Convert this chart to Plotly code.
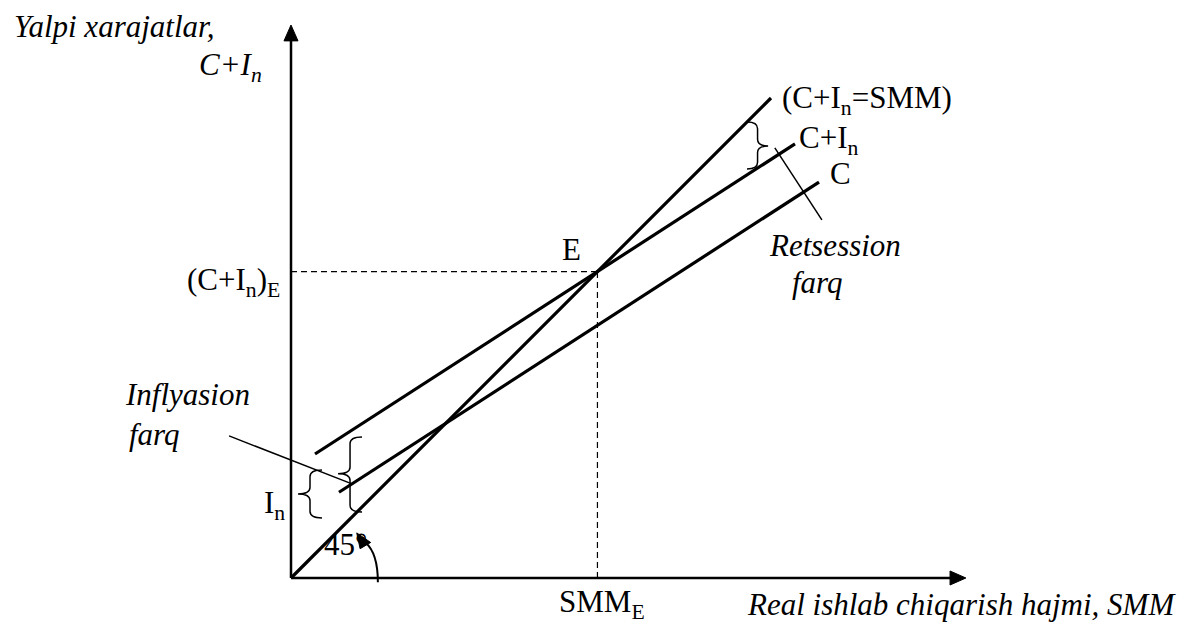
import plotly.graph_objects as go

# Keynesian cross: aggregate expenditure vs real output
mpc = 0.646            # slope of the consumption function
c_autonomous = 1.14    # autonomous consumption (C intercept)
invest = 1.12          # investment I_n
line45_x = [0.0, 10.0]
ae_x = [0.5, 10.5]      # C + I_n line span
cons_x = [1.0, 11.0]    # C line span

x_axis_end = 14.06
y_axis_end = 11.52

eq_x = (c_autonomous + invest) / (1 - mpc)
eq_y = eq_x

# plot scaling: 1 unit = 48 px, origin at (291, 578) in a 1190x632 canvas
W, H = 1190, 632
UNIT = 48.0
OX, OY = 291, 578
x_range = [-OX / UNIT, (W - OX) / UNIT]
y_range = [(OY - H) / UNIT, OY / UNIT]

FONT = "Liberation Serif, Times New Roman, serif"
INK = "#000000"
TEXT_SIZE = 31

fig = go.Figure()

def seg(xs, ys, width, dash="solid"):
    fig.add_trace(go.Scatter(x=xs, y=ys, mode="lines",
                             line=dict(color=INK, width=width, dash=dash),
                             hoverinfo="skip", showlegend=False))

# axes
seg([0, 0], [0, y_axis_end - 0.3], 2.5)
seg([0, x_axis_end - 0.3], [0, 0], 2.5)

# 45-degree line, C + I_n and C
seg(line45_x, line45_x, 3.2)
seg(ae_x, [c_autonomous + invest + mpc * x for x in ae_x], 3.2)
seg(cons_x, [c_autonomous + mpc * x for x in cons_x], 3.2)

# equilibrium guides
seg([0, eq_x], [eq_y, eq_y], 1.2, dash="6px,4px")
seg([eq_x, eq_x], [0, eq_y], 1.2, dash="6px,4px")

# pointer lines for the gap labels
seg([10.08, 11.06], [8.96, 7.46], 1.5)
seg([-1.29, 1.27], [2.96, 1.96], 1.5)

shapes = []

def tri(p1, p2, p3):
    shapes.append(dict(type="path", xref="x", yref="y",
                       path=f"M {p1[0]},{p1[1]} L {p2[0]},{p2[1]} L {p3[0]},{p3[1]} Z",
                       fillcolor=INK, line=dict(color=INK, width=1)))

# axis arrowheads
tri((0, y_axis_end), (-0.146, y_axis_end - 0.33), (0.146, y_axis_end - 0.33))
tri((x_axis_end, 0), (x_axis_end - 0.33, 0.146), (x_axis_end - 0.33, -0.146))

def brace(x_tip, x_end, y_top, y_bot, y_mid=None):
    """Curly brace whose point sits at x_tip and whose ends reach x_end."""
    if y_mid is None:
        y_mid = (y_top + y_bot) / 2
    xm = (x_tip + x_end) / 2
    k = 0.14
    p = (f"M {x_end},{y_top} Q {xm},{y_top} {xm},{y_top - k} "
         f"L {xm},{y_mid + k} Q {xm},{y_mid} {x_tip},{y_mid} "
         f"Q {xm},{y_mid} {xm},{y_mid - k} "
         f"L {xm},{y_bot + k} Q {xm},{y_bot} {x_end},{y_bot}")
    shapes.append(dict(type="path", xref="x", yref="y", path=p,
                       line=dict(color=INK, width=1.5)))

brace(0.146, 0.646, 2.25, 1.25)          # I_n
brace(0.98, 1.48, 2.94, 1.375, 2.17)     # inflationary gap
brace(9.94, 9.50, 9.50, 8.52, 9.00)      # recessionary gap

# 45-degree marker arc with arrowhead
shapes.append(dict(type="path", xref="x", yref="y",
                   path="M 1.81,-0.09 Q 1.81,0.52 1.55,0.74",
                   line=dict(color=INK, width=2)))
tri((1.37, 0.94), (1.66, 0.74), (1.44, 0.61))

fig.update_layout(shapes=shapes)

def label(text, x, y, xanchor="left", size=TEXT_SIZE):
    fig.add_annotation(x=x, y=y, xref="x", yref="y", text=text,
                       showarrow=False, xanchor=xanchor, yanchor="middle",
                       font=dict(family=FONT, size=size, color=INK))

label("<i>Yalpi xarajatlar,</i>", -5.81, 11.5)
label("<i>C+I<sub>n</sub></i>", -1.96, 10.65)
label("(C+I<sub>n</sub>=SMM)", 10.19, 9.96)
label("C+I<sub>n</sub>", 10.54, 9.12)
label("C", 11.19, 8.42)
label("E", 5.85, 6.85, xanchor="center")
label("(C+I<sub>n</sub>)<sub>E</sub>", -0.19, 6.17, xanchor="right")
label("<i>Retsession</i>", 9.92, 6.92)
label("<i>farq</i>", 10.40, 6.15)
label("<i>Inflyasion</i>", -3.50, 3.83)
label("<i>farq</i>", -3.42, 3.00)
label("I<sub>n</sub>", -0.08, 1.52, xanchor="right")
label("45°", 0.65, 0.69)
label("SMM<sub>E</sub>", 5.54, -0.55)
label("<i>Real ishlab chiqarish hajmi, SMM</i>", 9.45, -0.55)

fig.update_layout(
    width=W, height=H,
    margin=dict(l=0, r=0, t=0, b=0),
    paper_bgcolor="white", plot_bgcolor="white",
    xaxis=dict(range=x_range, visible=False, fixedrange=True),
    yaxis=dict(range=y_range, visible=False, fixedrange=True),
    showlegend=False,
)

fig.write_html("out.html")
